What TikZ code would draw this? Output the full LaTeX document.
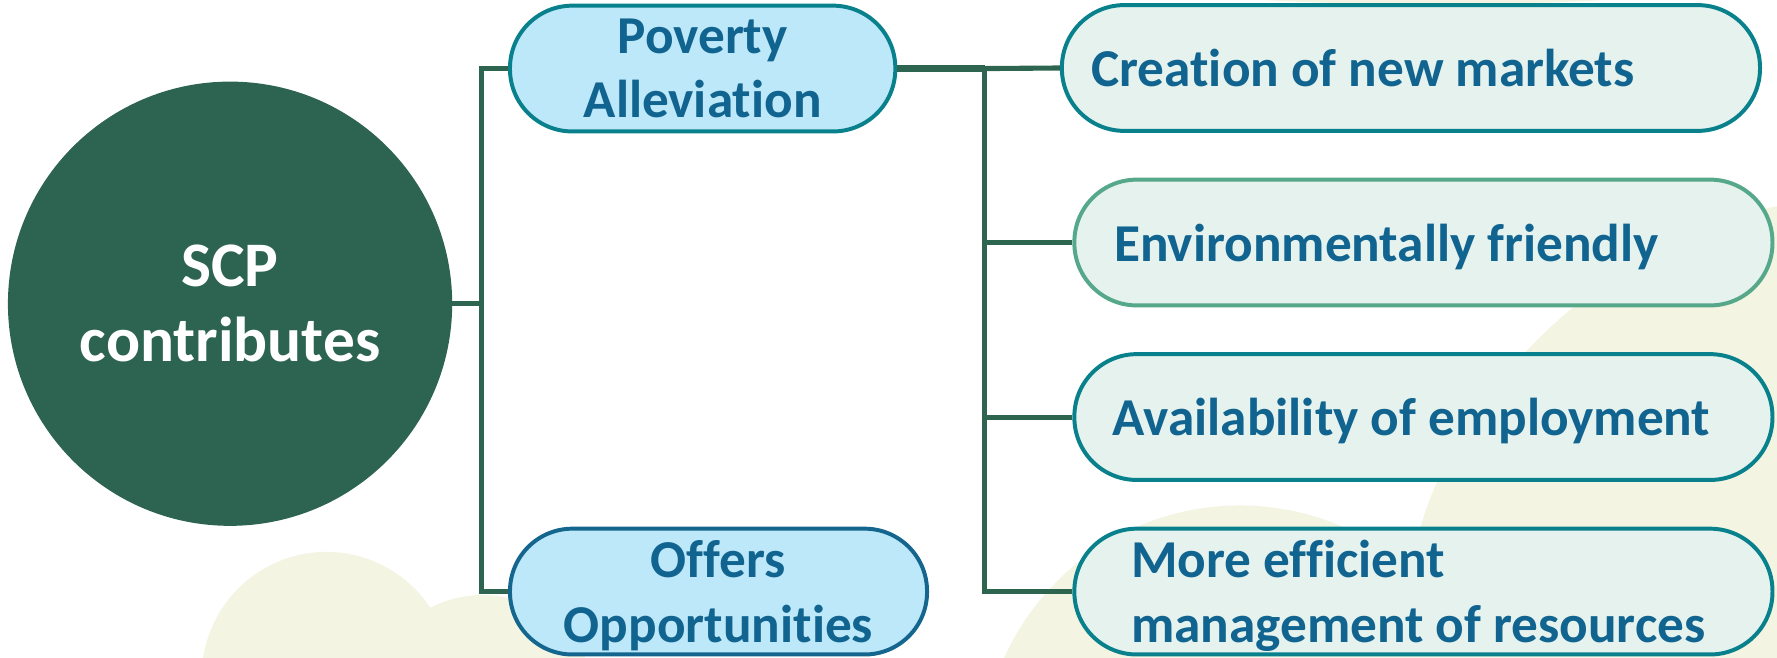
\documentclass[tikz,border=0pt]{standalone}
\usepackage{fontspec}
\setmainfont{Carlito}[Ligatures=NoCommon]
\usetikzlibrary{positioning}

\definecolor{scpgreen}{HTML}{2D6351}
\definecolor{linkgreen}{HTML}{2E6551}
\definecolor{tealline}{HTML}{08818C}
\definecolor{blueline}{HTML}{14668F}
\definecolor{skyfill}{HTML}{BDE8F9}
\definecolor{mintfill}{HTML}{E5F2ED}
\definecolor{seagreen}{HTML}{56A88B}
\definecolor{textblue}{HTML}{10648F}
\definecolor{beige}{HTML}{F3F5E2}

\newcommand{\nodepth}[1]{\raisebox{0pt}[\height][0pt]{#1}}

\tikzset{
  hub/.style={circle, fill=scpgreen, text=white, minimum size=392pt, inner sep=0pt,
    align=center, font=\fontsize{56}{66}\selectfont\bfseries},
  branch/.style={rectangle, rounded corners=55pt, draw=tealline, fill=skyfill,
    line width=3.5pt, minimum height=111pt, inner sep=0pt, text=textblue,
    align=center, font=\fontsize{47}{57}\selectfont\bfseries},
  leaf/.style={rectangle, rounded corners=55pt, draw=tealline, fill=mintfill,
    line width=3.5pt, minimum width=616pt, minimum height=111pt, inner ysep=0pt,
    text=textblue, align=flush left, font=\fontsize{47}{57}\selectfont\bfseries},
  link/.style={draw=linkgreen, line width=4.5pt}
}

\begin{document}
\begin{tikzpicture}[x=1pt, y=-1pt, node distance=154pt, on grid]
  \useasboundingbox (0,0) rectangle (1568,580);
  % background blobs
  \begin{scope}
    \clip (0,0) rectangle (1568,580);
    \fill[beige] (288,597) circle (110);
    \fill[beige] (426,626) circle (101);
    \fill[beige] (1094,674) circle (228);
    \fill[beige] (1580,180) .. controls (1440,200) and (1290,330) .. (1252,470)
      .. controls (1245,505) and (1240,550) .. (1238,600) -- (1600,600) -- cycle;
    \fill[beige] (1266,-40) ellipse [x radius=360, y radius=44];
  \end{scope}

  \node[hub] (scp) at (203,268) {SCP\\contributes};
  \node[branch, minimum width=340pt] (pov) at (620,60.5) {Poverty\\Alleviation};
  \node[branch, draw=blueline, minimum width=368pt] (opp) at (634,522)
    {Offers\\\nodepth{Opportunities}};

  \node[leaf, text width=564pt, inner xsep=26pt] (mkt) at (1245,60)
    {Creation of new markets};
  \node[leaf, draw=seagreen, text width=546pt, inner xsep=35pt] (env)
    [below=of mkt, xshift=11pt] {\nodepth{Environmentally friendly}};
  \node[leaf, text width=548pt, inner xsep=34pt] (emp) [below=of env]
    {\nodepth{Availability of employment}};
  \node[leaf, text width=516pt, inner xsep=50pt] (res) [below=of emp]
    {More efficient\\\nodepth{management of resources}};

  \coordinate (trunkA) at (425,268);
  \coordinate (trunkB) at (869,60.5);

  \draw[link] (scp.east) -- (trunkA);
  \draw[link] (pov.west) -| (trunkA) |- (opp.west);
  \draw[link, line width=6pt] (pov.east) -- (trunkB);
  \draw[link] (trunkB) -- (mkt.west);
  \draw[link] (trunkB) |- (res.west);
  \foreach \n in {env, emp}
    \draw[link] (trunkB |- \n.west) -- (\n.west);
\end{tikzpicture}
\end{document}
